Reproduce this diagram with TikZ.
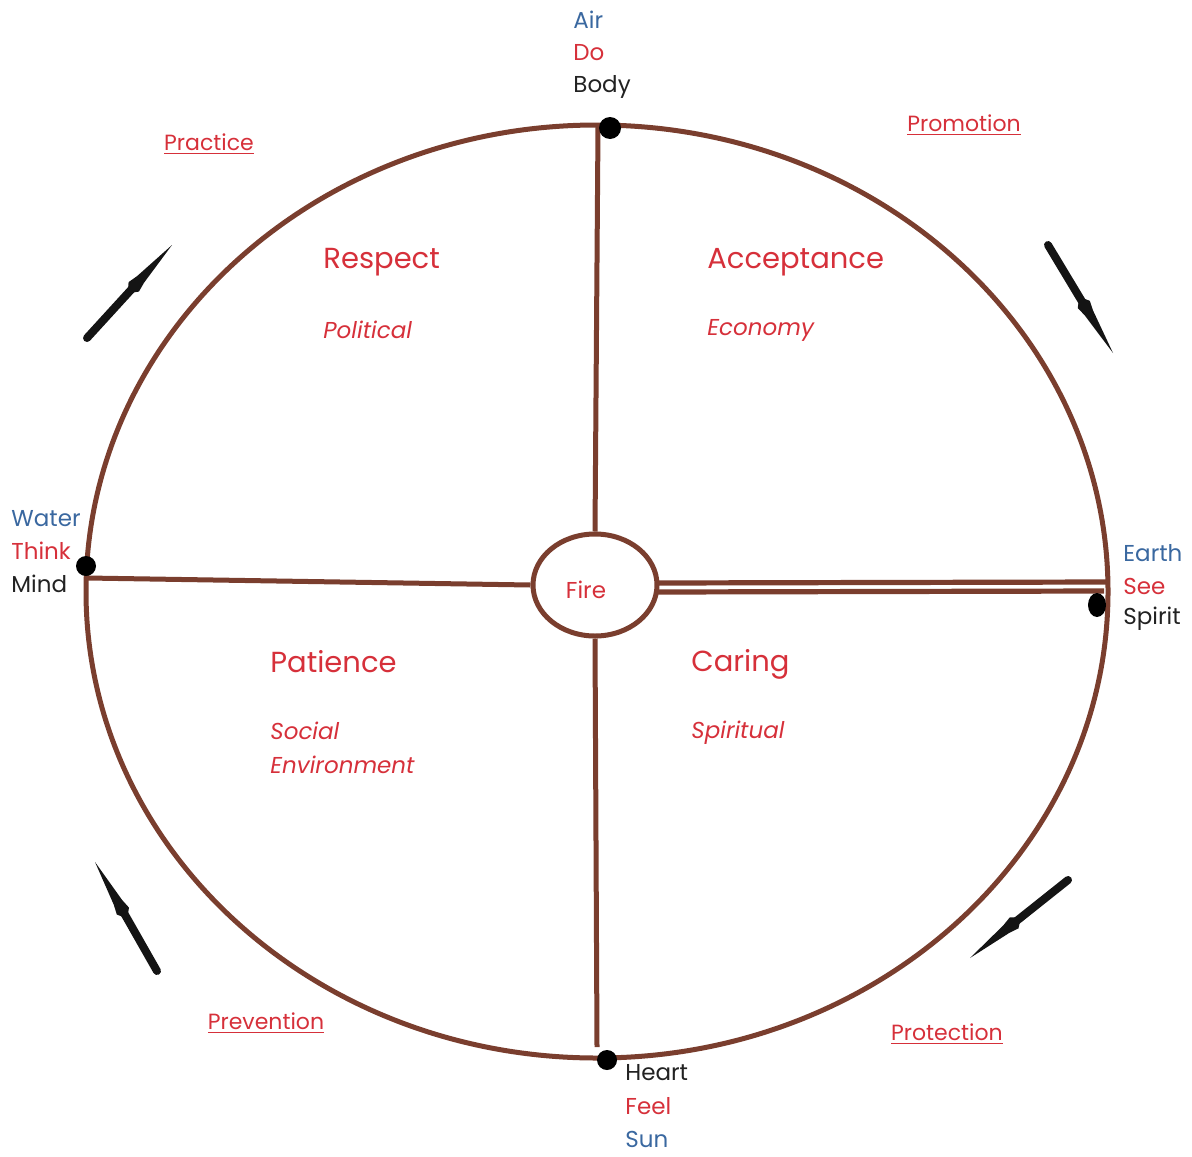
\documentclass[tikz,border=0pt]{standalone}
\usepackage{fontspec}
\setmainfont{Poppins}
\usetikzlibrary{calc,shapes.geometric}
\definecolor{wheelbrown}{RGB}{122,62,46}
\definecolor{lblred}{RGB}{214,48,58}
\definecolor{lblblue}{RGB}{58,104,160}
\definecolor{lblblack}{RGB}{34,34,34}
\definecolor{arrowcol}{RGB}{20,20,20}
\tikzset{
  wline/.style={draw=wheelbrown, line width=2.5pt},
  dotnode/.style={circle, fill=black, inner sep=0pt, minimum size=10.5pt},
  smalllbl/.style={inner sep=0pt, anchor=west, font=\fontsize{11.5}{13}\selectfont},
  bluelbl/.style={smalllbl, text=lblblue},
  redlbl/.style={smalllbl, text=lblred},
  blacklbl/.style={smalllbl, text=lblblack},
  valuelbl/.style={inner sep=0pt, anchor=west, text=lblred, font=\fontsize{14.5}{16}\selectfont},
  domainlbl/.style={inner sep=0pt, anchor=west, text=lblred, font=\fontsize{11.5}{16}\selectfont\itshape},
  stagelbl/.style={inner sep=0pt, text=lblred, font=\fontsize{11}{13}\selectfont},
  arrowshaft/.style={draw=arrowcol, line width=4pt, line cap=round},
}
\newcommand{\windarrow}[3]{%
  \coordinate (#3p) at ($(#1)!0.48!(#2)$);
  \coordinate (#3m) at ($(#1)!0.55!(#2)$);
  \coordinate (#3q) at ($(#1)!0.63!(#2)$);
  \draw[arrowshaft] (#1) -- (#3m);
  \fill[arrowcol] (#3p) -- ($(#3m)!3.5pt!90:(#2)$) -- ($(#3q)!2.4pt!90:(#2)$) -- (#2)
     -- ($(#3q)!2.4pt!-90:(#2)$) -- ($(#3m)!3.5pt!-90:(#2)$) -- cycle;
}
\begin{document}
\begin{tikzpicture}[x=0.5pt, y=-0.5pt]
\useasboundingbox (0,0) rectangle (1192,1156);
% main wheel
\node[ellipse, wline, minimum width=511pt, minimum height=466.5pt, inner sep=0pt] (wheel) at (597,591.5) {};
% fire
\node[ellipse, wline, minimum width=62pt, minimum height=51pt, inner sep=0pt] (fire) at (595,585) {};
\node[inner sep=0pt, text=lblred, font=\fontsize{11.5}{13}\selectfont] (firelbl) at (586,590) {Fire};
% spokes
\coordinate (ntop) at (598,126);
\coordinate (nbot) at (597,1047);
\coordinate (wleft) at (87,578);
\coordinate (eup) at (1106,582);
\coordinate (elow) at (1104,591);
\draw[wline] (ntop) -- (fire.north);
\draw[wline] (fire.south) -- (nbot);
\draw[wline] (wleft) -- (fire.west);
\coordinate (fup) at ($(fire.east)+(-2,-2)$);
\coordinate (flow) at ($(fire.east)+(-2,7)$);
\draw[draw=wheelbrown, line width=2.6pt] (fup) -- (eup);
\draw[draw=wheelbrown, line width=2.6pt] (flow) -- (elow);
% dots
\node[dotnode, minimum size=11pt] (dtop) at (610,128) {};
\node[dotnode, minimum size=10pt] (dleft) at (86,566) {};
\node[dotnode, ellipse, minimum width=9pt, minimum height=12pt] (dright) at (1097,605) {};
\node[dotnode, minimum size=10pt] (dbot) at (607,1060) {};
% cardinal labels
\node[bluelbl] (air) at (573,20) {Air};
\node[redlbl] (do) at (573,53) {Do};
\node[blacklbl] (body) at (573,87) {Body};
\node[bluelbl] (water) at (11,519) {Water};
\node[redlbl] (think) at (11,551) {Think};
\node[blacklbl] (mind) at (11,584) {Mind};
\node[bluelbl] (earth) at (1123,553) {Earth};
\node[redlbl] (see) at (1123,586) {See};
\node[blacklbl] (spirit) at (1123,619) {Spirit};
\node[blacklbl] (heart) at (625,1073) {Heart};
\node[redlbl] (feel) at (625,1106) {Feel};
\node[bluelbl] (sun) at (625,1139) {Sun};
% quadrant labels
\node[valuelbl] (respect) at (323,262) {Respect};
\node[domainlbl] (political) at (323,330) {Political};
\node[valuelbl] (acceptance) at (707,262) {Acceptance};
\node[domainlbl] (economy) at (707,330) {Economy};
\node[valuelbl] (patience) at (270,662) {Patience};
\node[domainlbl] (social) at (270,731) {Social};
\node[domainlbl] (environment) at (270,765) {Environment};
\node[valuelbl] (caring) at (691,664) {Caring};
\node[domainlbl] (spiritual) at (691,733) {Spiritual};
% stages
\node[stagelbl] (practice) at (209,144) {\underline{Practice}};
\node[stagelbl] (promotion) at (964,125) {\underline{Promotion}};
\node[stagelbl] (prevention) at (266,1023) {\underline{Prevention}};
\node[stagelbl] (protection) at (947,1034) {\underline{Protection}};
% direction arrows
\coordinate (a1t) at (87,338); \coordinate (a1h) at (172,245);
\coordinate (a2t) at (1048,245); \coordinate (a2h) at (1113,353);
\coordinate (a3t) at (1068,880); \coordinate (a3h) at (970,958);
\coordinate (a4t) at (157,971); \coordinate (a4h) at (95,862);
\windarrow{a1t}{a1h}{a1}
\windarrow{a2t}{a2h}{a2}
\windarrow{a3t}{a3h}{a3}
\windarrow{a4t}{a4h}{a4}
\end{tikzpicture}
\end{document}
